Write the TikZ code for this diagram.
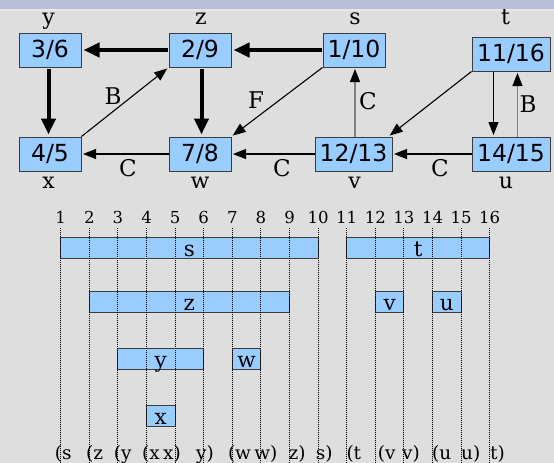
\documentclass[tikz,border=0pt]{standalone}
\usepackage{fontspec}
\setmainfont{DejaVu Serif}
\newfontfamily\boxfont{DejaVu Sans}
\usetikzlibrary{arrows.meta,calc}
\definecolor{bgc}{HTML}{DEDEDE}
\definecolor{bandc}{HTML}{B8BDD8}
\definecolor{bandline}{HTML}{E8E8EA}
\definecolor{boxfill}{HTML}{99CCFF}
\definecolor{boxline}{HTML}{3C3C3C}
\definecolor{grayedge}{HTML}{808080}
\definecolor{dotc}{HTML}{000000}
\begin{document}
\begin{tikzpicture}[x=1pt,y=-1pt,
  vnode/.style={draw=boxline,fill=boxfill,line width=1pt,minimum width=62pt,minimum height=34pt,inner sep=0pt,font=\boxfont\fontsize{23.5}{24}\selectfont},
  vlabel/.style={inner sep=0pt,anchor=base,font=\fontsize{22}{24}\selectfont},
  elabel/.style={inner sep=0pt,font=\fontsize{23}{25}\selectfont},
  bigarrow/.style={line width=4pt,-{Triangle[length=16pt,width=14pt]},shorten >=2pt,shorten <=1pt},
  smallarrow/.style={line width=1.1pt,draw=black,-{Triangle[length=13pt,width=10pt]},shorten >=1.5pt},
  grayarrow/.style={line width=1.2pt,draw=grayedge,-{Triangle[length=13pt,width=10pt,color=black]},shorten >=1.5pt},
  numlabel/.style={inner sep=0pt,anchor=base,font=\fontsize{16.5}{18}\selectfont},
  barbox/.style={draw=boxline,fill=boxfill,line width=1pt,inner sep=0pt},
  barlabel/.style={inner sep=0pt,anchor=base,font=\fontsize{21.5}{23}\selectfont},
  parlabel/.style={inner sep=0pt,anchor=base west,font=\fontsize{18.5}{20}\selectfont},
  dotline/.style={draw=dotc,line width=1.1pt,dash pattern=on 1pt off 1pt}
]
% background
\fill[bgc] (0,0) rectangle (554,463);
\fill[bandc] (0,0) rectangle (554,9);
\fill[bandline] (0,9) rectangle (554,11);
\useasboundingbox (0,0) rectangle (554,463);

% graph nodes
\node[vnode] (n36) at (50,50) {3/6};
\node[vnode] (n29) at (200,50) {2/9};
\node[vnode] (n110) at (354,50) {1/10};
\node[vnode,minimum width=78pt] (n1116) at (511,54) {11/16};
\node[vnode] (n45) at (50,154) {4/5};
\node[vnode] (n78) at (200,154) {7/8};
\node[vnode,minimum width=77pt] (n1213) at (353.5,154) {12/13};
\node[vnode,minimum width=78pt] (n1415) at (511,154) {14/15};

% vertex names
\node[vlabel] (ly) at (48.5,24) {y};
\node[vlabel] (lz) at (201,24) {z};
\node[vlabel] (ls) at (355,24) {s};
\node[vlabel] (lt) at (505.5,24) {t};
\node[vlabel] (lx) at (48.5,188) {x};
\node[vlabel] (lw) at (200,188) {w};
\node[vlabel] (lv) at (354.5,188) {v};
\node[vlabel] (lu) at (506,188) {u};

% thick (tree) edges
\draw[bigarrow] (n29) -- (n36);
\draw[bigarrow] (n110) -- (n29);
\draw[bigarrow] ([xshift=-1.5pt]n36.south) -- ([xshift=-1.5pt]n45.north);
\draw[bigarrow] ([xshift=1.5pt]n29.south) -- ([xshift=1.5pt]n78.north);

% thin edges
\draw[smallarrow] (n45.north east) -- (n29.south west);
\draw[smallarrow] (n110.south west) -- (n78.north east);
\draw[smallarrow] (n78) -- (n45);
\draw[smallarrow] (n1213) -- (n78);
\draw[grayarrow] ([xshift=1.5pt]n1213.north) -- ([xshift=1pt]n110.south);
\draw[smallarrow] (n1116.south west) -- ([xshift=-4pt]n1213.north east);
\draw[smallarrow] ([xshift=-17.5pt]n1116.south) -- ([xshift=-17.5pt]n1415.north);
\draw[grayarrow] ([xshift=6.5pt]n1415.north) -- ([xshift=6.5pt]n1116.south);
\draw[smallarrow] (n1415) -- (n1213);

% edge labels
\node[elabel] (eB1) at (113,96) {B};
\node[elabel] (eF) at (256,100) {F};
\node[elabel] (eC1) at (128,168) {C};
\node[elabel] (eC2) at (282,168) {C};
\node[elabel] (eC3) at (368,101) {C};
\node[elabel] (eC4) at (440,168) {C};
\node[elabel] (eB2) at (528,104) {B};

% timeline bars
\foreach \a/\b/\yc/\nm/\lab in {1/10/248/bs/s, 11/16/248/bt/t, 2/9/302.2/bz/z, 12/13/302.2/bv/v, 14/15/302.2/bu/u, 3/6/359/by/y, 7/8/359/bw/w, 4/5/416.3/bx/x}{
  \pgfmathsetmacro{\xa}{60.7+(\a-1)*28.6}
  \pgfmathsetmacro{\xb}{60.7+(\b-1)*28.6}
  \pgfmathsetmacro{\xm}{(\xa+\xb)/2}
  \pgfmathsetmacro{\barw}{\xb-\xa}
  \node[barbox,minimum width=\barw pt,minimum height=21pt] (\nm) at (\xm,\yc) {};
  \node[barlabel] (\nm-l) at (\xm,\yc+8.5) {\lab};
}

% numbers and dotted line ends
\foreach \i in {1,...,16}{
  \pgfmathsetmacro{\xx}{60.7+(\i-1)*28.6}
  \node[numlabel] (num\i) at (\xx,223.5) {\i};
  \coordinate (top\i) at (\xx,227.5);
  \coordinate (bot\i) at (\xx,463);
}

% parenthesis labels
\foreach \xx/\txt/\nm in {54.6/(s/p1, 86/(z/p2, 113.6/(y/p3, 142/(x/p4, 163/x)/p5, 196/y)/p6, 227.8/(w/p7, 254.2/w)/p8, 288.5/z)/p9, 315.6/s)/p10, 346.3/(t/p11, 377.6/(v/p12, 402/v)/p13, 432/(u/p14, 461/u)/p15, 490/t)/p16}{
  \node[parlabel] (\nm) at (\xx,459) {\txt};
}

\foreach \i in {1,...,16}{
  \draw[dotline] (top\i) -- (bot\i);
}
\end{tikzpicture}
\end{document}
